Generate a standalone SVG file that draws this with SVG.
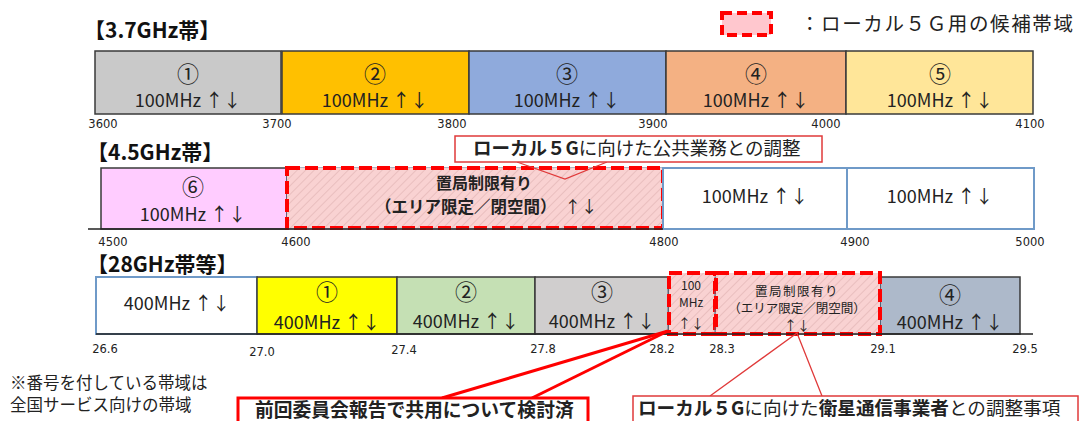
<svg xmlns="http://www.w3.org/2000/svg" width="1080" height="421" viewBox="0 0 1080 421">
<style>
.t{font-family:"Noto Sans CJK JP","Noto Sans",sans-serif;fill:#222}
.c{text-anchor:middle}
.title{font-size:21px;font-weight:bold;fill:#111}
.num{font-size:22px}
.mhz{font-size:18px}
.tick{font-family:"DejaVu Sans",sans-serif;font-size:11.5px;fill:#222;text-anchor:middle}
.band{stroke:#3a3a3a;stroke-width:1.5}
.blue{fill:#fff;stroke:#6f9ac8;stroke-width:2}
.dash{fill:url(#hatch);stroke:#ff0000;stroke-width:4;stroke-dasharray:13 5}
.under{fill:none;stroke:#5a6a86;stroke-width:1}
.axis{stroke:#222;stroke-width:1.5}
.b{font-weight:bold}
</style>
<defs>
<pattern id="hatch" patternUnits="userSpaceOnUse" width="6" height="6" patternTransform="rotate(45)">
<rect width="6" height="6" fill="#f9d2d2"/>
<line x1="0" y1="0" x2="0" y2="6" stroke="#e3b5b5" stroke-width="1.4"/>
</pattern>
</defs>
<rect width="1080" height="421" fill="#fff"/>

<!-- legend -->
<g id="legend">
<rect x="722" y="13" width="49" height="22" fill="#ffc7ce" stroke="#ff0000" stroke-width="4" stroke-dasharray="10 5"/>
<text class="t" x="800" y="31" font-size="19.5" textLength="273">：ローカル５Ｇ用の候補帯域</text>
</g>

<!-- 3.7GHz -->
<g id="band37">
<text class="t title" x="84" y="38">【3.7GHz帯】</text>
<g id="b37-1"><rect class="band" x="95" y="51" width="186" height="63" fill="#c9c9c9"/>
<text class="t c num" x="188" y="82">①</text><text class="t c mhz" x="188" y="107">100MHz ↑↓</text></g>
<g id="b37-2"><rect class="band" x="282" y="51" width="187" height="63" fill="#ffc000"/>
<text class="t c num" x="375" y="82">②</text><text class="t c mhz" x="375" y="107">100MHz ↑↓</text></g>
<g id="b37-3"><rect class="band" x="469" y="51" width="197" height="63" fill="#8faadc"/>
<text class="t c num" x="567" y="82">③</text><text class="t c mhz" x="567" y="107">100MHz ↑↓</text></g>
<g id="b37-4"><rect class="band" x="666" y="51" width="180" height="63" fill="#f4b183"/>
<text class="t c num" x="756" y="82">④</text><text class="t c mhz" x="756" y="107">100MHz ↑↓</text></g>
<g id="b37-5"><rect class="band" x="846" y="51" width="187" height="63" fill="#ffe699"/>
<text class="t c num" x="940" y="82">⑤</text><text class="t c mhz" x="940" y="107">100MHz ↑↓</text></g>
<text class="tick" x="103" y="128">3600</text>
<text class="tick" x="277" y="128">3700</text>
<text class="tick" x="452" y="128">3800</text>
<text class="tick" x="653" y="128">3900</text>
<text class="tick" x="826" y="128">4000</text>
<text class="tick" x="1030" y="128">4100</text>
</g>

<!-- 4.5GHz -->
<g id="band45">
<text class="t title" x="87" y="160">【4.5GHz帯】</text>
<g id="b45-6"><rect class="band" x="101" y="168" width="186" height="61" fill="#ffccff"/>
<text class="t c num" x="193" y="195">⑥</text><text class="t c mhz" x="193" y="221">100MHz ↑↓</text></g>
<g id="b45-local"><rect class="under" x="287" y="168" width="376" height="61"/>
<rect class="dash" x="287" y="168" width="376" height="60"/>
<text class="t c b" x="484" y="189" font-size="16" fill="#3a2c2c">置局制限有り</text>
<text class="t b" x="375" y="213" font-size="16.5" fill="#3a2c2c">（エリア限定／閉空間）<tspan font-weight="normal" dx="8">↑↓</tspan></text></g>
<g id="b45-a"><rect class="blue" x="663" y="168" width="184" height="61"/>
<text class="t c mhz" x="755" y="203">100MHz ↑↓</text></g>
<g id="b45-b"><rect class="blue" x="847" y="168" width="187" height="61"/>
<text class="t c mhz" x="940" y="203">100MHz ↑↓</text></g>
<line class="axis" x1="88" y1="229" x2="663" y2="229"/>
<text class="tick" x="113" y="246">4500</text>
<text class="tick" x="296" y="246">4600</text>
<text class="tick" x="664" y="246">4800</text>
<text class="tick" x="855" y="246">4900</text>
<text class="tick" x="1030" y="246">5000</text>
</g>

<!-- 28GHz -->
<g id="band28">
<text class="t title" x="87" y="272">【28GHz帯等】</text>
<g id="b28-w"><rect class="blue" x="96" y="277" width="161" height="57"/>
<text class="t c mhz" x="177" y="310">400MHz ↑↓</text></g>
<g id="b28-1"><rect class="band" x="257" y="277" width="140" height="57" fill="#ffff00"/>
<text class="t c num" x="327" y="300">①</text><text class="t c mhz" x="327" y="329">400MHz ↑↓</text></g>
<g id="b28-2"><rect class="band" x="397" y="277" width="138" height="57" fill="#c5e0b4"/>
<text class="t c num" x="466" y="300">②</text><text class="t c mhz" x="466" y="328">400MHz ↑↓</text></g>
<g id="b28-3"><rect class="band" x="535" y="277" width="134" height="57" fill="#d0cece"/>
<text class="t c num" x="602" y="300">③</text><text class="t c mhz" x="602" y="328">400MHz ↑↓</text></g>
<g id="b28-4"><rect class="band" x="880" y="277" width="140" height="57" fill="#adb9ca"/>
<text class="t c num" x="950" y="303">④</text><text class="t c mhz" x="950" y="329">400MHz ↑↓</text></g>
<g id="b28-100"><rect class="under" x="668" y="277" width="47" height="57"/>
<rect class="dash" x="669" y="273" width="46" height="61"/>
<text class="t c" x="691" y="290" font-size="12" fill="#333">100</text>
<text class="t c" x="691" y="307" font-size="12" fill="#333">MHz</text>
<text class="t c" x="691" y="328" font-size="13" fill="#333">↑↓</text></g>
<g id="b28-local"><rect class="under" x="715" y="277" width="165" height="57"/>
<rect class="dash" x="716" y="273" width="164" height="61"/>
<text class="t c" x="797" y="296" font-size="12.5" fill="#333" letter-spacing="1.5">置局制限有り</text>
<text class="t c" x="797" y="313" font-size="12.5" fill="#333">（エリア限定／閉空間）</text>
<text class="t c" x="797" y="330" font-size="13" fill="#333">↑↓</text></g>
<line class="axis" x1="96" y1="334" x2="1033" y2="334"/>
<text class="tick" x="105" y="353">26.6</text>
<text class="tick" x="262" y="356">27.0</text>
<text class="tick" x="404" y="354">27.4</text>
<text class="tick" x="543" y="353">27.8</text>
<text class="tick" x="662" y="353">28.2</text>
<text class="tick" x="722" y="353">28.3</text>
<text class="tick" x="883" y="353">29.1</text>
<text class="tick" x="1025" y="353">29.5</text>
</g>

<!-- connectors -->
<g id="connectors" fill="none">
<polyline points="517,162 565,179 607,162" stroke="#e03a3a" stroke-width="1.3"/>
<line x1="442" y1="398" x2="668" y2="331" stroke="#ff0000" stroke-width="3"/>
<line x1="532" y1="398" x2="668" y2="331" stroke="#ff0000" stroke-width="3"/>
<polyline points="710,396 797,333 822,396" stroke="#e03a3a" stroke-width="1.3"/>
</g>

<!-- callouts -->
<g id="callout-public">
<rect x="455" y="136" width="367" height="26" fill="#fff" stroke="#e03a3a" stroke-width="1.5"/>
<text class="t" x="473" y="155" font-size="18.5"><tspan font-weight="bold">ローカル５G</tspan>に向けた公共業務との調整</text>
</g>
<g id="callout-shared">
<rect x="238" y="398" width="350" height="30" fill="#fff" stroke="#ff0000" stroke-width="3"/>
<text class="t b" x="255" y="417" font-size="18.8" fill="#111">前回委員会報告で共用について検討済</text>
</g>
<g id="callout-sat">
<rect x="633" y="396" width="445" height="30" fill="#fff" stroke="#e03a3a" stroke-width="1.5"/>
<text class="t" x="638" y="415" font-size="18.6"><tspan font-weight="bold">ローカル５G</tspan>に向けた<tspan font-weight="bold">衛星通信事業者</tspan>との調整事項</text>
</g>

<!-- note -->
<g id="note">
<text class="t" x="10" y="389" font-size="16.5" fill="#333">※番号を付している帯域は</text>
<text class="t" x="10" y="411" font-size="16.5" fill="#333">全国サービス向けの帯域</text>
</g>
</svg>
